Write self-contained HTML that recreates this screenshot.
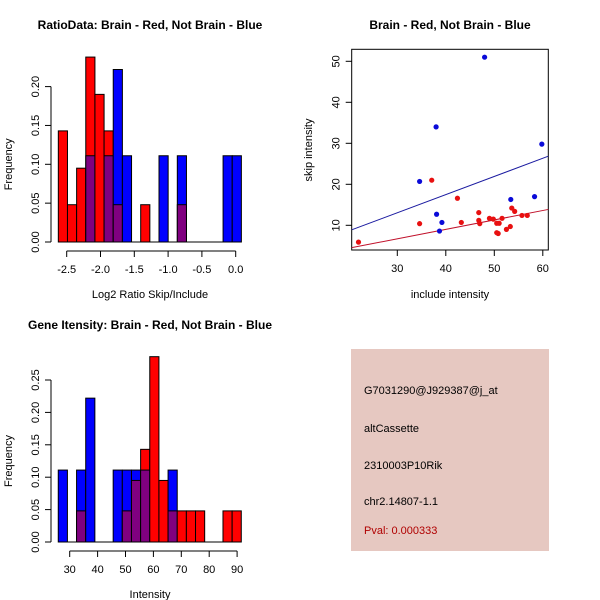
<!DOCTYPE html>
<html><head><meta charset="utf-8"><style>
body{margin:0;background:#fff}
svg{display:block;font-family:"Liberation Sans",sans-serif}
</style></head><body>
<svg id="c" width="600" height="600" xmlns="http://www.w3.org/2000/svg">
<rect width="600" height="600" fill="#fff"/>
</svg>
<script>
// Ratio histogram data (20 bins)
const ratioStart = -2.624;
const ratioBinWidth = 0.1354;
const ratioRed = [0.143,0.048,0.095,0.238,0.190,0.143,0.048,0,0,0.048,0,0,0,0.048,0,0,0,0,0,0];
const ratioBlue = [0,0,0,0.111,0,0.111,0.222,0.111,0,0,0,0.111,0,0.111,0,0,0,0,0.111,0.111];
const ratioXTicks = [-2.5,-2.0,-1.5,-1.0,-0.5,0.0];
const ratioYTicks = [0.00,0.05,0.10,0.15,0.20];
// Intensity histogram data (20 bins)
const intStart = 25.9;
const intBinWidth = 3.28;
const intRed = [0,0,0.048,0,0,0,0,0.048,0.095,0.143,0.286,0.095,0.048,0.048,0.048,0.048,0,0,0.048,0.048];
const intBlue = [0.111,0,0.111,0.222,0,0,0.111,0.111,0.111,0.111,0,0,0.111,0,0,0,0,0,0,0];
const intXTicks = [30,40,50,60,70,80,90];
const intYTicks = [0.00,0.05,0.10,0.15,0.20,0.25];
// Scatter data
const brainX = [22,34.6,37.1,42.4,43.2,46.8,46.8,47,49,49.8,50.5,50.5,50.8,51,51.6,52.5,53.3,53.6,54.2,55.7,56.8];
const brainY = [5.9,10.4,21,16.6,10.7,13.1,11.2,10.4,11.7,11.5,10.5,8.2,8,10.5,11.7,9,9.7,14.2,13.4,12.4,12.4];
const otherX = [48,38,34.6,38.1,39.2,38.7,53.4,58.3,59.8];
const otherY = [51,34,20.7,12.7,10.7,8.6,16.3,17,29.8];
const fitBlue = [-0.23,0.443];
const fitRed = [-0.19,0.230];
const scXTicks = [30,40,50,60];
const scYTicks = [10,20,30,40,50];

const svg = document.getElementById('c');
const NS = 'http://www.w3.org/2000/svg';
function mk(tag, attrs, parent){const e=document.createElementNS(NS,tag);for(const k in attrs)e.setAttribute(k,attrs[k]);(parent||svg).appendChild(e);return e;}
function txt(s, attrs, parent){const e=mk('text',attrs,parent);e.textContent=s;return e;}

function hist(name, start, bw, red, blue, xt, yt, geo, xlab, title){
  const g = mk('g',{});
  
  
  const X = v => geo.x0 + (v - geo.xv0) * geo.xs;
  const Y = v => geo.y0 - v * geo.ys;
  for(let i=0;i<red.length;i++){
    const l=X(start+i*bw), r=X(start+(i+1)*bw);
    const mx=Math.max(red[i],blue[i]), mn=Math.min(red[i],blue[i]);
    if(mx>0){
      const b=mk('rect',{x:l,y:Y(mx),width:r-l,height:Y(0)-Y(mx),fill:red[i]>=blue[i]?'#ff0000':'#0000ff',stroke:'#000','stroke-width':1},g);
      
      
    }
    if(mn>0){
      const p=mk('rect',{x:l,y:Y(mn),width:r-l,height:Y(0)-Y(mn),fill:'#800080',stroke:'#000','stroke-width':1},g);
      
      
    }
  }
  mk('line',{x1:X(start),x2:X(start+red.length*bw),y1:Y(0),y2:Y(0),stroke:'#000'},g);
  // y axis
  const ya=mk('g',{},g);
  
  
  mk('line',{x1:geo.ax,x2:geo.ax,y1:Y(yt[0]),y2:Y(yt[yt.length-1]),stroke:'#000'},ya);
  yt.forEach(v=>{
    mk('line',{x1:geo.ax-6,x2:geo.ax,y1:Y(v),y2:Y(v),stroke:'#000'},ya);
    const t=txt(v.toFixed(2),{x:geo.ax-12,y:Y(v),'font-size':11,'text-anchor':'middle',transform:`rotate(-90 ${geo.ax-12} ${Y(v)})`},ya);
    
    
  });
  // x axis
  const xa=mk('g',{},g);
  
  
  mk('line',{x1:X(xt[0]),x2:X(xt[xt.length-1]),y1:geo.ay,y2:geo.ay,stroke:'#000'},xa);
  xt.forEach(v=>{
    mk('line',{x1:X(v),x2:X(v),y1:geo.ay,y2:geo.ay+6,stroke:'#000'},xa);
    const t=txt(v.toFixed(geo.dec),{x:X(v),y:geo.ay+22,'font-size':11,'text-anchor':'middle'},xa);
    
    
  });
  const xl=txt(xlab,{x:150,y:geo.ay+47,'font-size':11,'text-anchor':'middle'},g);
  
  
  const yl=txt('Frequency',{x:12,y:(Y(0)+Y(yt[yt.length-1]))/2,'font-size':11,'text-anchor':'middle',transform:`rotate(-90 12 ${(Y(0)+Y(yt[yt.length-1]))/2})`},g);
  
  
  const tt=txt(title,{x:150,y:geo.ty,'font-size':12,'font-weight':'bold','text-anchor':'middle'},g);
  
  
}

hist('ratio-histogram', ratioStart, ratioBinWidth, ratioRed, ratioBlue, ratioXTicks, ratioYTicks,
  {x0:66.7,xv0:-2.5,xs:67.6,y0:242,ys:777,ax:51,ay:251,dec:1,ty:29},
  'Log2 Ratio Skip/Include','RatioData: Brain - Red, Not Brain - Blue');
hist('intensity-histogram', intStart, intBinWidth, intRed, intBlue, intXTicks, intYTicks,
  {x0:69.7,xv0:30,xs:2.79,y0:542,ys:648,ax:51,ay:551,dec:0,ty:329},
  'Intensity','Gene Itensity: Brain - Red, Not Brain - Blue');

// Scatter
const sg=mk('g',{});


const SX=v=>397.3+(v-30)*4.85, SY=v=>225.3-(v-10)*4.1;
const L=351.7,R=548.3,T=49.3,B=250;
const clip=mk('clipPath',{id:'sc'},sg);mk('rect',{x:L,y:T,width:R-L,height:B-T},clip);
mk('rect',{x:L,y:T,width:R-L,height:B-T,fill:'none',stroke:'#000'},sg);
const xv0=(L-397.3)/4.85+30, xv1=(R-397.3)/4.85+30;
const bl=mk('line',{x1:L,x2:R,y1:SY(fitBlue[0]+fitBlue[1]*xv0),y2:SY(fitBlue[0]+fitBlue[1]*xv1),stroke:'#1a1aa0','clip-path':'url(#sc)'},sg);


const rl=mk('line',{x1:L,x2:R,y1:SY(fitRed[0]+fitRed[1]*xv0),y2:SY(fitRed[0]+fitRed[1]*xv1),stroke:'#c0102a','clip-path':'url(#sc)'},sg);


otherX.forEach((x,i)=>{const c=mk('circle',{cx:SX(x),cy:SY(otherY[i]),r:2.6,fill:'#0a0ad8'},sg);

});
brainX.forEach((x,i)=>{const c=mk('circle',{cx:SX(x),cy:SY(brainY[i]),r:2.6,fill:'#e81010'},sg);

});
scXTicks.forEach(v=>{mk('line',{x1:SX(v),x2:SX(v),y1:B,y2:B+6,stroke:'#000'},sg);
const t=txt(v,{x:SX(v),y:B+22,'font-size':11,'text-anchor':'middle'},sg);

});
scYTicks.forEach(v=>{mk('line',{x1:L-6,x2:L,y1:SY(v),y2:SY(v),stroke:'#000'},sg);
const t=txt(v,{x:L-12,y:SY(v),'font-size':11,'text-anchor':'middle',transform:`rotate(-90 ${L-12} ${SY(v)})`},sg);

});
const sxl=txt('include intensity',{x:450,y:298,'font-size':11,'text-anchor':'middle'},sg);


const syl=txt('skip intensity',{x:312,y:150,'font-size':11,'text-anchor':'middle',transform:'rotate(-90 312 150)'},sg);


const st=txt('Brain - Red, Not Brain - Blue',{x:450,y:29,'font-size':12,'font-weight':'bold','text-anchor':'middle'},sg);


</script>
<svg width="0" height="0" style="position:absolute"></svg>
<div style="position:absolute;left:351px;top:349px;width:198px;height:202px;background:#e6c8c1;font-family:'Liberation Sans',sans-serif;font-size:11px;">
<div style="position:absolute;left:13px;top:36px">G7031290@J929387@j_at</div>
<div style="position:absolute;left:13px;top:74px">altCassette</div>
<div style="position:absolute;left:13px;top:111px">2310003P10Rik</div>
<div style="position:absolute;left:13px;top:147px">chr2.14807-1.1</div>
<div style="position:absolute;left:13px;top:176px;color:#b00000">Pval: 0.000333</div>
</div>
</body></html>
